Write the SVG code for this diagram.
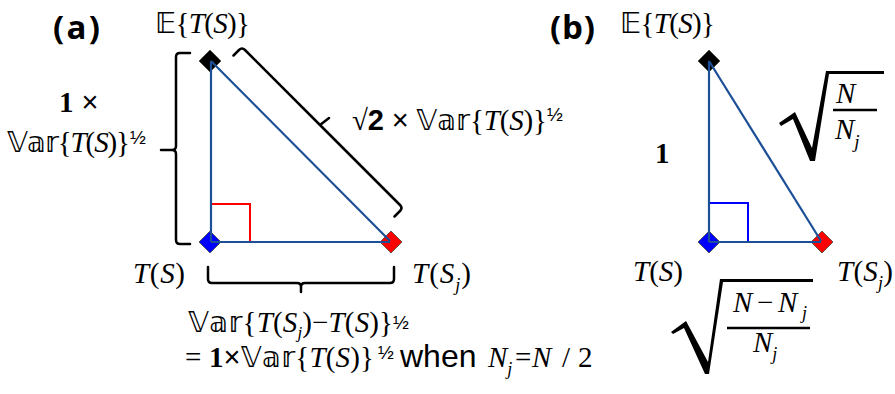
<svg xmlns="http://www.w3.org/2000/svg" width="895" height="394" viewBox="0 0 895 394">
<style>
.m{font-family:"Liberation Serif","DejaVu Sans","DejaVu Serif",serif;font-size:29px;fill:#000}
.i{font-style:italic}
.b{font-weight:bold}
.s{font-family:"Liberation Sans",Arial,sans-serif}
.h{font-family:"Liberation Sans",Arial,sans-serif;font-size:19px}
.lab{font-family:"Open Sans","Liberation Sans",sans-serif;font-weight:700;font-size:33px}
.br{fill:none;stroke:#000;stroke-width:2.5;stroke-linejoin:round;stroke-linecap:round}
.edge{stroke:#1c4f96;stroke-width:2.2;fill:none}
.dm{stroke:#4a4a3a;stroke-width:0.8}
.rad{fill:#000}
.fb{stroke:#000;stroke-width:2.5}
</style>
<defs>
<path id="dia" d="M0,-11 L11,0 L0,11 L-11,0 Z"/>
</defs>

<!-- Panel (a) -->
<text class="lab" x="53" y="39" textLength="47">(a)</text>
<rect x="211" y="204" width="39" height="38" fill="none" stroke="#ff0000" stroke-width="2"/>
<g id="a-top"><use href="#dia" x="210" y="61" fill="#000" class="dm"/>
<text class="m" x="155" y="33" textLength="95">𝔼{<tspan class="i">T</tspan>(<tspan class="i">S</tspan>)}</text></g>
<g id="a-left"><use href="#dia" x="210" y="242" fill="#0000ff" class="dm"/>
<text class="m" x="133" y="283" textLength="52"><tspan class="i">T</tspan>(<tspan class="i">S</tspan>)</text></g>
<g id="a-right"><use href="#dia" x="391" y="242" fill="#ff0000" class="dm"/>
<text class="m" x="412" y="283" textLength="59"><tspan class="i">T</tspan>(<tspan class="i">S</tspan><tspan class="i" font-size="18" dy="8">j</tspan><tspan dy="-8">)</tspan></text></g>

<g id="connectors-a">
<line class="edge" x1="211" y1="61" x2="211" y2="242"/>
<line class="edge" x1="211" y1="242" x2="390" y2="242"/>
<line class="edge" x1="211" y1="61" x2="390" y2="241"/>
</g>

<g id="a-brackets">
<path class="br" d="M190,53 L180,53 Q176,53 176,57 L176,146 Q176,150 172,150 L161,150 M172,150 Q176,150 176,154 L176,240 Q176,244 180,244 L190,244"/>
<path class="br" d="M208,267 V279 Q208,283 212,283 H297 Q301,283 301,287 V292 M301,287 Q301,283 305,283 H390 Q394,283 394,279 V267"/>
<path class="br" d="M233.5,55.5 L239,50 Q242,47 245,50 L320,125 M320,125 L329,118 M320,125 L400,205 Q403,208 400,211 L394.5,216.5"/>
</g>

<g id="a-labels">
<text class="m" x="59" y="112"><tspan class="b">1</tspan><tspan class="s"> ×</tspan></text>
<text class="m" x="7" y="152" textLength="123">𝕍𝕒𝕣{<tspan class="i">T</tspan>(<tspan class="i">S</tspan>)}</text>
<text class="h" x="130" y="144">½</text>
<text class="m" x="352" y="130" textLength="195">√<tspan class="s b">2</tspan><tspan class="s"> × </tspan>𝕍𝕒𝕣{<tspan class="i">T</tspan>(<tspan class="i">S</tspan>)}</text>
<text class="h" x="547" y="121">½</text>
<text class="m" x="188" y="332" textLength="205">𝕍𝕒𝕣{<tspan class="i">T</tspan>(<tspan class="i">S</tspan><tspan class="i" font-size="17" dy="6">j</tspan><tspan dy="-6">)−</tspan><tspan class="i">T</tspan>(<tspan class="i">S</tspan>)}</text>
<text class="h" x="393" y="329" font-size="17">½</text>
<text class="m" x="185" y="367" textLength="189">= <tspan class="b">1</tspan><tspan class="s">×</tspan>𝕍𝕒𝕣{<tspan class="i">T</tspan>(<tspan class="i">S</tspan>)}</text>
<text class="h" x="378" y="359" font-size="17">½</text>
<text class="s" x="400" y="367" font-size="32">when</text>
<text class="m" x="488" y="367"><tspan class="i">N</tspan><tspan class="i" font-size="18" dy="8">j</tspan><tspan x="515" dy="-8">=</tspan><tspan class="i" x="532">N</tspan><tspan x="562">/</tspan><tspan x="578">2</tspan></text>
</g>

<!-- Panel (b) -->
<text class="lab" x="550" y="39" textLength="45">(b)</text>
<rect x="709" y="203" width="39" height="39" fill="none" stroke="#0000ff" stroke-width="2"/>
<g id="b-top"><use href="#dia" x="709" y="61" fill="#000" class="dm"/>
<text class="m" x="620" y="33" textLength="95">𝔼{<tspan class="i">T</tspan>(<tspan class="i">S</tspan>)}</text></g>
<g id="b-left"><use href="#dia" x="709" y="242" fill="#0000ff" class="dm"/>
<text class="m" x="633" y="281" textLength="50"><tspan class="i">T</tspan>(<tspan class="i">S</tspan>)</text></g>
<g id="b-right"><use href="#dia" x="822" y="242" fill="#ff0000" class="dm"/>
<text class="m" x="837" y="281" textLength="56"><tspan class="i">T</tspan>(<tspan class="i">S</tspan><tspan class="i" font-size="18" dy="8">j</tspan><tspan dy="-8">)</tspan></text></g>

<g id="connectors-b">
<line class="edge" x1="709" y1="61" x2="709" y2="242"/>
<line class="edge" x1="709" y1="242" x2="821" y2="242"/>
<line class="edge" x1="709" y1="61" x2="821" y2="241"/>
</g>

<g id="b-labels">
<text class="m b" x="655" y="163" font-size="25">1</text>
<path class="rad" d="M779,123 L795,112 L812,148 L826,71 L884,71 L884,74 L829,74 L815,161 L810,161 L793,119 L781,126 Z"/>
<text class="m i" x="836" y="103" font-size="29">N</text>
<line class="fb" x1="833" y1="110" x2="877" y2="110"/>
<text class="m i" x="835" y="139" font-size="29">N<tspan font-size="19" dy="9">j</tspan></text>
<path class="rad" d="M671,332 L686,321 L708,362 L720,279 L813,279 L813,282 L723,282 L709,374 L705,374 L684,328 L673,334 Z"/>
<text class="m i" x="733" y="312" font-size="26" textLength="74">N<tspan font-style="normal">−</tspan>N<tspan font-size="18" dy="7">j</tspan></text>
<line class="fb" x1="727" y1="328" x2="810" y2="328"/>
<text class="m i" x="753" y="352" font-size="27">N<tspan font-size="18" dy="8">j</tspan></text>
</g>
</svg>
